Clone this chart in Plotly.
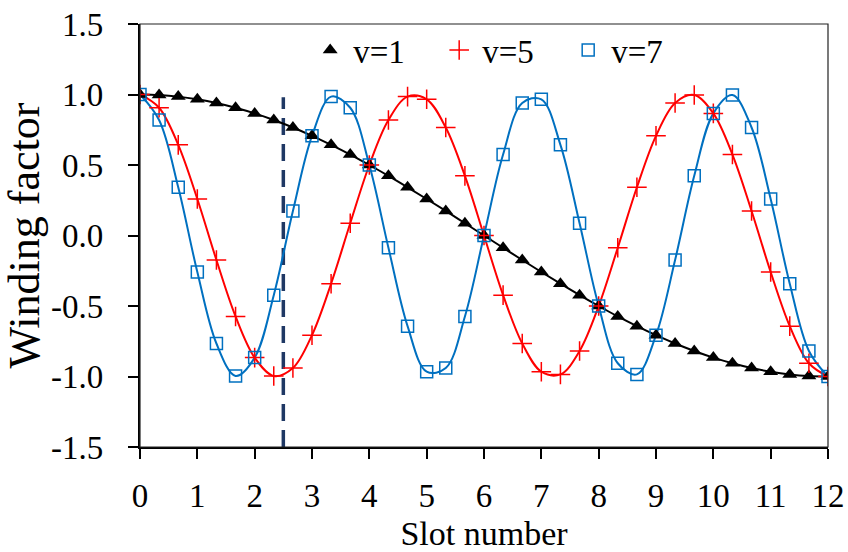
import plotly.graph_objects as go

# Slot positions (every 1/3 slot)
slots = [0, 0.333, 0.667, 1, 1.333, 1.667, 2, 2.333, 2.667, 3, 3.333, 3.667,
         4, 4.333, 4.667, 5, 5.333, 5.667, 6, 6.333, 6.667, 7, 7.333, 7.667,
         8, 8.333, 8.667, 9, 9.333, 9.667, 10, 10.333, 10.667, 11, 11.333, 11.667, 12]

kw_v1 = [1.000, 0.996, 0.985, 0.966, 0.940, 0.906, 0.866, 0.819, 0.766, 0.707, 0.643, 0.574,
         0.500, 0.423, 0.342, 0.259, 0.174, 0.087, 0.000, -0.087, -0.174, -0.259, -0.342, -0.423,
         -0.500, -0.574, -0.643, -0.707, -0.766, -0.819, -0.866, -0.906, -0.940, -0.966, -0.985, -0.996, -1.000]

kw_v5 = [1.000, 0.906, 0.643, 0.259, -0.174, -0.574, -0.866, -0.996, -0.940, -0.707, -0.342, 0.087,
         0.500, 0.819, 0.985, 0.966, 0.766, 0.423, 0.000, -0.423, -0.766, -0.966, -0.985, -0.819,
         -0.500, -0.087, 0.342, 0.707, 0.940, 0.996, 0.866, 0.574, 0.174, -0.259, -0.643, -0.906, -1.000]

kw_v7 = [1.000, 0.819, 0.342, -0.259, -0.766, -0.996, -0.866, -0.423, 0.174, 0.707, 0.985, 0.906,
         0.500, -0.087, -0.643, -0.966, -0.940, -0.574, 0.000, 0.574, 0.940, 0.966, 0.643, 0.087,
         -0.500, -0.906, -0.985, -0.707, -0.174, 0.423, 0.866, 0.996, 0.766, 0.259, -0.342, -0.819, -1.000]

marker_x = [2.5, 2.5]
marker_y = [-1.5, 0.98]

x_ticks = list(range(0, 13))
y_ticks = [-1.5, -1.0, -0.5, 0.0, 0.5, 1.0, 1.5]
y_tick_labels = ["-1.5", "-1.0", "-0.5", "0.0", "0.5", "1.0", "1.5"]

FONT = "Liberation Serif, Times New Roman, serif"
BLUE = "#0070C0"
RED = "#FF0000"

fig = go.Figure()

# dashed reference line
fig.add_trace(go.Scatter(x=marker_x, y=marker_y, mode="lines", showlegend=False,
                         line=dict(color="#1F3864", width=3.5, dash="17px,9px"), hoverinfo="skip"))

# smooth lines
fig.add_trace(go.Scatter(x=slots, y=kw_v1, mode="lines", showlegend=False,
                         line=dict(color="black", width=2, shape="spline")))
fig.add_trace(go.Scatter(x=slots, y=kw_v5, mode="lines", showlegend=False,
                         line=dict(color=RED, width=2, shape="spline")))
fig.add_trace(go.Scatter(x=slots, y=kw_v7, mode="lines", showlegend=False,
                         line=dict(color=BLUE, width=2, shape="spline")))

# markers
fig.add_trace(go.Scatter(x=slots, y=kw_v1, mode="markers", name="v=1",
                         marker=dict(symbol="triangle-up", size=13, color="black")))
fig.add_trace(go.Scatter(x=slots, y=kw_v5, mode="markers", name="v=5",
                         marker=dict(symbol="cross-thin", size=14,
                                     line=dict(color=RED, width=1.5), color=RED)))
fig.add_trace(go.Scatter(x=slots, y=kw_v7, mode="markers", name="v=7",
                         marker=dict(symbol="square-open", size=12, color=BLUE,
                                     line=dict(width=1.5))))

fig.update_layout(
    width=848, height=552,
    margin=dict(l=140, r=20, t=24, b=105),
    paper_bgcolor="white", plot_bgcolor="white",
    font=dict(family=FONT, size=33, color="black"),
    showlegend=True,
    legend=dict(orientation="h", x=0.243, y=0.9385, xanchor="left", yanchor="middle",
                bgcolor="rgba(0,0,0,0)", font=dict(family=FONT, size=33),
                entrywidth=78, entrywidthmode="pixels", itemsizing="trace", itemwidth=36),
    shapes=[dict(type="rect", xref="x domain", yref="y domain", x0=0, x1=1, y0=0, y1=1,
                 line=dict(color="#222222", width=1.2), layer="above")],
)

fig.update_xaxes(range=[0, 12], tickvals=x_ticks, showgrid=False, zeroline=False,
                 automargin=False, ticklabeloverflow="allow",
                 showline=True, linecolor="black", linewidth=2.2,
                 ticks="outside", ticklen=10, tickwidth=2, tickcolor="black",
                 tickfont=dict(family=FONT, size=33), ticklabelstandoff=8,
                 title=dict(text="Slot number", font=dict(family=FONT, size=34), standoff=18))
fig.update_yaxes(range=[-1.5, 1.5], tickvals=y_ticks, ticktext=y_tick_labels,
                 showgrid=False, zeroline=False,
                 automargin=False, ticklabeloverflow="allow",
                 showline=True, linecolor="black", linewidth=2.2,
                 ticks="outside", ticklen=10, tickwidth=2, tickcolor="black",
                 tickfont=dict(family=FONT, size=33), ticklabelstandoff=18,
                 title=dict(text="Winding factor", font=dict(family=FONT, size=44), standoff=14))

# remove the default page margin so the 848x552 figure fills the window exactly
fig.write_html("out.html",
               config={"displayModeBar": False},
               post_script="document.body.style.margin='0';document.body.style.overflow='hidden';")
